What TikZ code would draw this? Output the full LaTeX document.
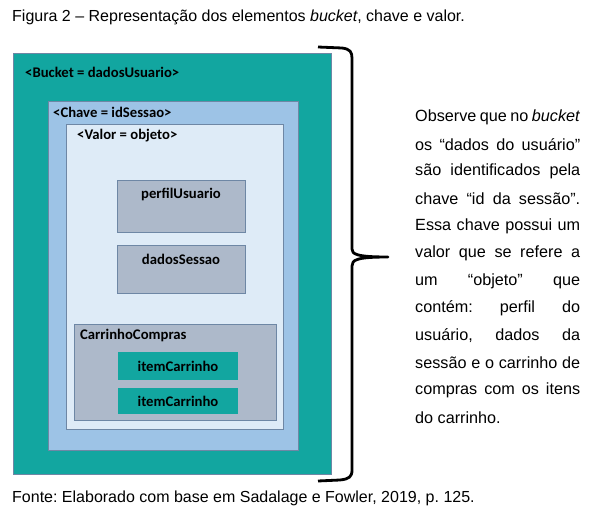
\documentclass[tikz,border=0pt]{standalone}
\usepackage{fontspec}
\setmainfont{Liberation Sans}
\newfontfamily\boxfont{Carlito}
\definecolor{tealc}{RGB}{18,166,160}
\definecolor{chavec}{RGB}{157,195,230}
\definecolor{valorc}{RGB}{222,235,247}
\definecolor{grayc}{RGB}{173,185,202}
\definecolor{edgec}{RGB}{110,135,165}
\frenchspacing
\begin{document}
\begin{tikzpicture}[x=1pt,y=-1pt,
  bx/.style={draw=edgec,line width=0.8pt},
  lbl/.style={font=\boxfont\bfseries\fontsize{14.7}{16}\selectfont,inner sep=0pt,anchor=west},
  clbl/.style={font=\boxfont\bfseries\fontsize{14.7}{16}\selectfont,inner sep=0pt},
  body/.style={font=\fontsize{16.2}{18}\selectfont,inner sep=0pt,anchor=west},
  brace/.style={line width=2.8pt,line cap=butt,line join=round}]
\useasboundingbox (0,0) rectangle (608,524);
\fill[white] (0,0) rectangle (608,524);
\node[body,font=\fontsize{16}{18}\selectfont] (title) at (12,17) {Figura 2 – Representação dos elementos \textit{bucket}, chave e valor.};
\node[body,font=\fontsize{16}{18}\selectfont] (fonte) at (12,498) {Fonte: Elaborado com base em Sadalage e Fowler, 2019, p. 125.};
% boxes
\draw[bx,fill=tealc] (13,53) rectangle (331,474);
\node[lbl] (bucket) at (25,72) {<Bucket = dadosUsuario>};
\draw[bx,fill=chavec] (48,101) rectangle (298,450);
\node[lbl] (chave) at (53,112) {<Chave = idSessao>};
\draw[bx,fill=valorc] (66,124) rectangle (283,429);
\node[lbl] (valor) at (77,136) {<Valor = objeto>};
\draw[bx,fill=grayc] (117,180) rectangle (245,232);
\node[clbl] (perfil) at (181,194) {perfilUsuario};
\draw[bx,fill=grayc] (117,245) rectangle (245,293);
\node[clbl] (sessao) at (181,259) {dadosSessao};
\draw[bx,fill=grayc] (74,324) rectangle (276,420);
\node[lbl] (carr) at (80,335) {CarrinhoCompras};
\fill[tealc] (118,352) rectangle (238,380);
\node[clbl] (item1) at (178,366) {itemCarrinho};
\fill[tealc] (118,388) rectangle (238,414);
\node[clbl] (item2) at (178,401) {itemCarrinho};
% brace
\draw[brace] (318,47) -- (342,48) .. controls (350,49) and (352,52) .. (352,58)
  -- (352,249) .. controls (352,254) and (356,257) .. (388,257)
  .. controls (356,257) and (352,260) .. (352,266)
  -- (352,470) .. controls (352,477) and (349,479) .. (340,480) -- (318,481);
% text
\foreach \i/\t in {0/{Observe que no \textit{bucket}},
  1/{os “dados do usuário”},
  2/{são identificados pela},
  3/{chave “id da sessão”.},
  4/{Essa chave possui um},
  5/{valor que se refere a},
  6/{um “objeto” que},
  7/{contém: perfil do},
  8/{usuário, dados da},
  9/{sessão e o carrinho de},
  10/{compras com os itens}}
  \node[body] (t\i) at (415,117+27.35*\i) {\makebox[165pt][s]{\t}};
\node[body] (t11) at (415,117+27.35*11) {do carrinho.};
\end{tikzpicture}
\end{document}
